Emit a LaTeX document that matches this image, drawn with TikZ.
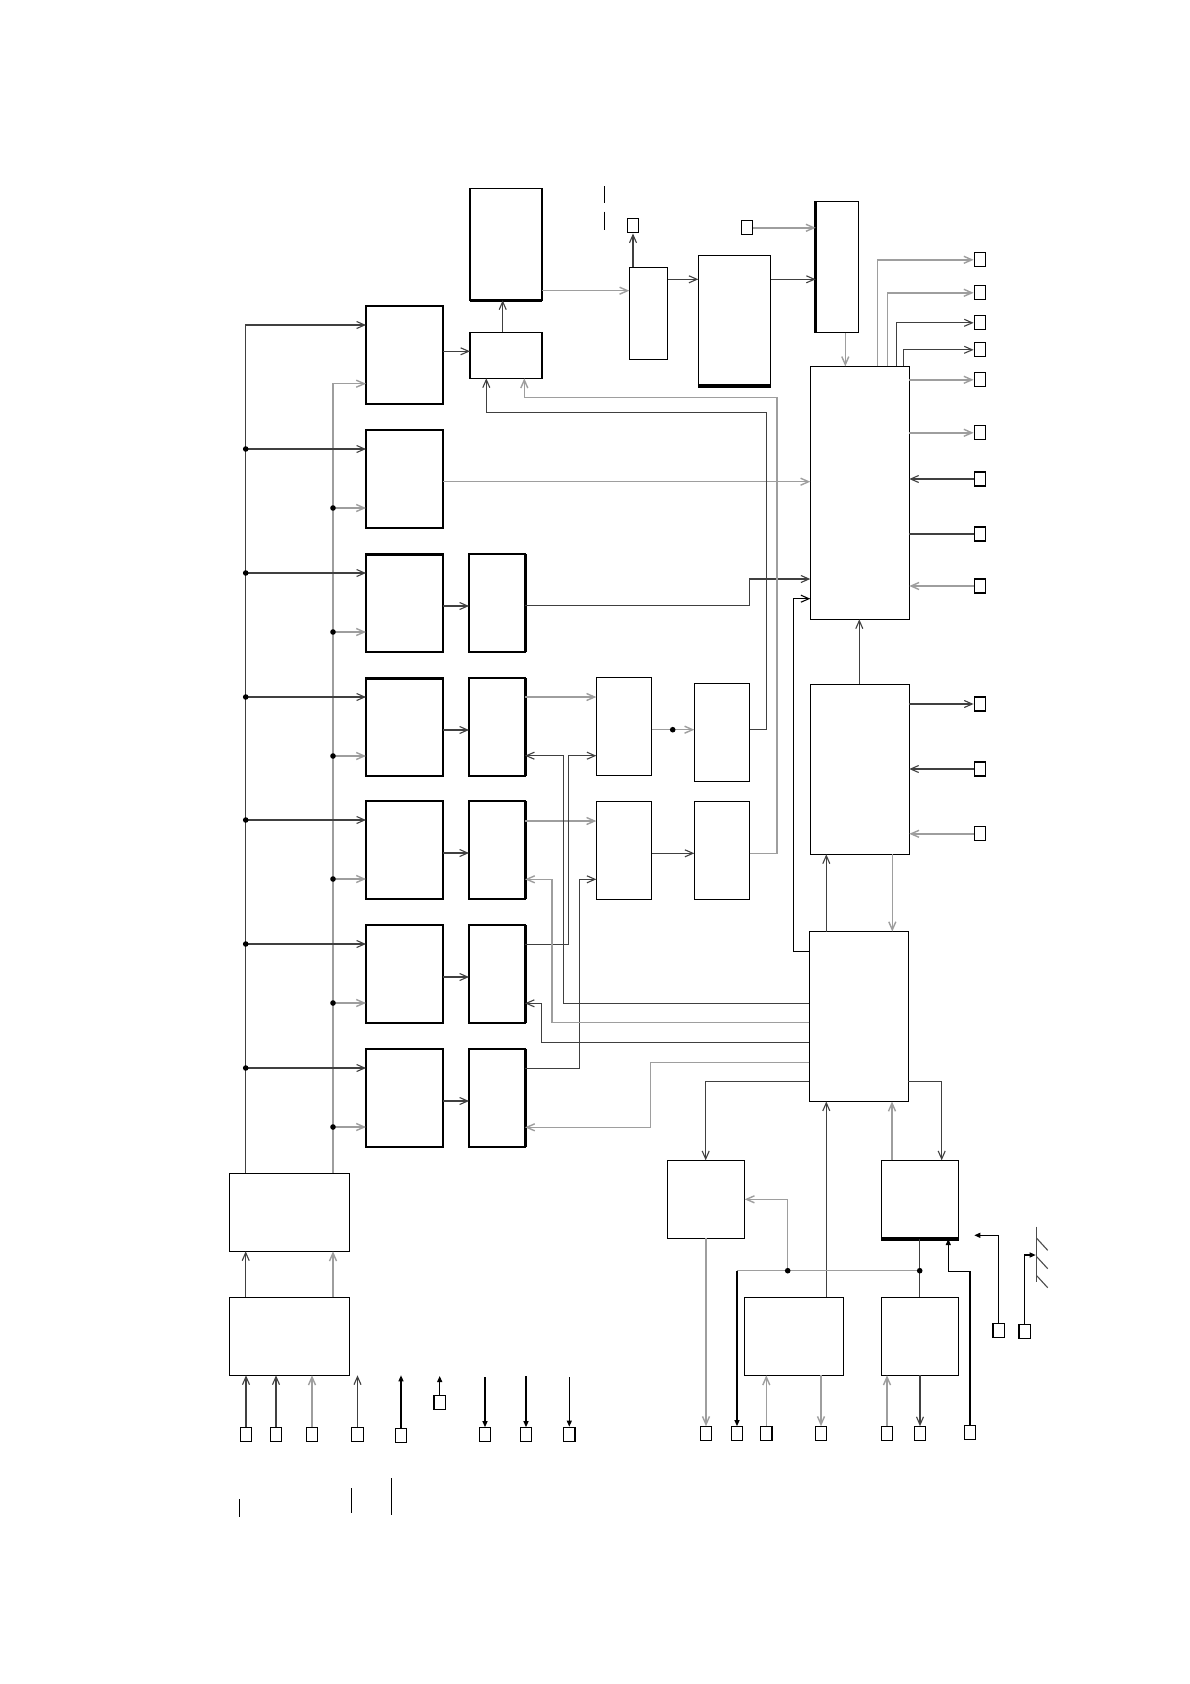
\documentclass[tikz,border=0pt]{standalone}
\usetikzlibrary{arrows.meta, positioning}

\begin{document}
\begin{tikzpicture}[x=1pt, y=-1pt,
        blk/.style={draw, line width=1.5pt, inner sep=0pt, outer sep=0pt, minimum width=77pt, minimum height=98pt, anchor=north west},
        pin/.style={draw, line width=1.3pt, inner sep=0pt, minimum width=11.5pt, minimum height=14pt},
        wire/.style={draw=black!75, line width=1.1pt},
        lite/.style={draw=black!38, line width=1.4pt},
        arr/.style={-{Straight Barb[length=8pt, width=7pt]}},
        fil/.style={-{Triangle[length=6pt, width=5pt]}},
        node distance=26pt
    ]
        \path[use as bounding box, fill=white] (0,0) rectangle (1190,1684);

        % power supply blocks
        \node[blk, minimum width=120pt, minimum height=78pt] (ps1) at (229.3,1173.3) {};
        \node[blk, minimum width=120pt, minimum height=78pt, below=46pt of ps1] (ps2) {};

        % channel rows
        \foreach \r/\t in {0/306,1/430,2/554,3/678,4/801,5/925,6/1049}
            \node[blk] (c1r\r) at (366,\t) {};
        \foreach \r in {2,...,6} {
            \node[blk, minimum width=56pt, right=26pt of c1r\r] (c2r\r) {};
            \draw[line width=3pt] (c2r\r.north east) -- (c2r\r.south east);
        }
        \draw[line width=3pt] (c1r2.north west) -- (c1r2.north east);
        \draw[line width=3pt] (c1r3.north west) -- (c1r3.north east);

        \node[blk, minimum width=55.4pt] (c3r3) at (596.3,677.3) {};
        \node[blk, minimum width=55.4pt] (c3r4) at (596.3,801.3) {};
        \node[blk, minimum width=55.4pt] (c4r3) at (694.3,683.3) {};
        \node[blk, minimum width=55.4pt] (c4r4) at (694.3,801.3) {};

        % upper blocks
        \node[blk, minimum width=72pt, minimum height=112pt] (memA) at (470,188.3) {};
        \node[blk, minimum width=72pt, minimum height=46pt] (ctl) at (470,332.3) {};
        \node[blk, minimum width=38.4pt, minimum height=92pt] (B) at (629.3,267.3) {};
        \node[blk, minimum width=72.4pt, minimum height=130.7pt] (C) at (698.3,255.3) {};
        \node[blk, minimum width=43pt, minimum height=131.4pt] (D) at (815.7,201.3) {};
        \draw[line width=3.5pt] (memA.south west) -- (memA.south east);
        \draw[line width=3.5pt] (C.south west) -- (C.south east);
        \draw[line width=3.5pt] (D.north west) -- (D.south west);

        % right column
        \node[blk, minimum width=99pt, minimum height=253pt] (E) at (810.3,366.3) {};
        \node[blk, minimum width=99pt, minimum height=170pt] (F) at (810.3,684.3) {};
        \node[blk, minimum width=99pt, minimum height=170pt] (G) at (809.3,931.5) {};
        \node[blk, minimum width=77.4pt, minimum height=78pt] (H) at (667.3,1160.3) {};
        \node[blk, minimum width=77.4pt, minimum height=78.7pt] (J) at (881.3,1160.3) {};
        \node[blk, minimum width=99.4pt, minimum height=78pt] (K) at (744.3,1297.3) {};
        \node[blk, minimum width=77.4pt, minimum height=78pt] (L) at (881.3,1297.3) {};
        \draw[line width=3.5pt] (J.south west) -- (J.south east);

        % terminals
        \node[pin] (t1) at (633,225.8) {};
        \node[pin] (t2) at (747,227.8) {};
        \foreach \n/\y in {1/259.8,2/292.8,3/322.8,4/349.8,5/379.8,6/432.8,7/479,8/534,9/586}
            \node[pin] (q\n) at (980,\y) {};
        \foreach \n/\y in {1/704,2/769,3/833.8}
            \node[pin] (qf\n) at (980,\y) {};
        \foreach \n/\x/\y in {1/246/1434.3,2/276/1434.3,3/312/1434.3,4/357.5/1434.3,5/401/1435.3,6/439.7/1402.8,7/485/1434.8,8/526/1434.8,9/569.3/1434.3,10/706/1433.8,11/737/1433.8,12/766.3/1433.8,13/821/1433.8,14/887/1433.8,15/920/1433.8,16/970/1432.8,17/998.8/1330.7,18/1024.8/1331.7}
            \node[pin] (b\n) at (\x,\y) {};

        % supply buses
        \draw[wire,arr] (ps2.north -| 245.7,0) -- (ps1.south -| 245.7,0);
        \draw[lite,arr] (ps2.north -| 333,0) -- (ps1.south -| 333,0);
        \draw[wire,arr] (ps1.north -| 245.7,0) -- (245.7,325) -- (c1r0.west |- 0,325);
        \draw[lite,arr] (ps1.north -| 333,0) -- (333,383.7) -- (c1r0.west |- 0,383.7);
        \foreach \r/\t in {1/430,2/554,3/678,4/801,5/925,6/1049} {
            \draw[wire,arr] (245.7,\t+19) -- (c1r\r.west |- 0,\t+19);
            \fill (245.7,\t+19) circle (2.8pt);
            \draw[lite,arr] (333,\t+78) -- (c1r\r.west |- 0,\t+78);
            \fill (333,\t+78) circle (2.8pt);
        }
        \foreach \r/\t in {2/554,3/678,4/801,5/925,6/1049}
            \draw[wire,arr] (c1r\r.east |- 0,\t+52) -- (c2r\r.west |- 0,\t+52);

        % top chain
        \draw[wire,arr] (c1r0.east |- 0,351.3) -- (ctl.west |- 0,351.3);
        \draw[wire,arr] (ctl.north -| 502.7,0) -- (memA.south -| 502.7,0);
        \draw[lite,arr] (memA.east |- 0,290.7) -- (B.west |- 0,290.7);
        \draw[wire,arr] (B.north -| t1) -- (t1.south);
        \draw[wire,arr] (B.east |- 0,279.3) -- (C.west |- 0,279.3);
        \draw[wire,arr] (C.east |- 0,279.3) -- (D.west |- 0,279.3);
        \draw[lite,arr] (t2.east) -- (D.west |- t2);
        \draw[lite,arr] (D.south -| 845.3,0) -- (E.north -| 845.3,0);

        % main block outputs
        \draw[lite,arr] (E.north -| 877.7,0) |- (q1.west);
        \draw[lite,arr] (E.north -| 887.3,0) |- (q2.west);
        \draw[wire,arr] (E.north -| 896.3,0) |- (q3.west);
        \draw[wire,arr] (E.north -| 903.3,0) |- (q4.west);
        \draw[lite,arr] (E.east |- q5) -- (q5.west);
        \draw[lite,arr] (E.east |- q6) -- (q6.west);
        \draw[wire,arr] (q7.west) -- (E.east |- q7);
        \draw[wire] (E.east |- q8) -- (q8.west);
        \draw[lite,arr] (q9.west) -- (E.east |- q9);
        \draw[lite,arr] (c1r1.east |- 0,481.7) -- (E.west |- 0,481.7);
        \draw[wire,arr] (c2r2.east |- 0,605.3) -| (749.3,579) -- (E.west |- 0,579);

        % rows 3 and 4
        \draw[lite,arr] (c2r3.east |- 0,697) -- (c3r3.west |- 0,697);
        \draw[lite,arr] (c3r3.east |- 0,729.7) -- (c4r3.west |- 0,729.7);
        \fill (672.7,729.7) circle (2.8pt);
        \draw[lite,arr] (c2r4.east |- 0,821) -- (c3r4.west |- 0,821);
        \draw[wire,arr] (c3r4.east |- 0,853.3) -- (c4r4.west |- 0,853.3);
        \draw[wire,arr] (c2r5.east |- 0,944.7) -| (568.7,755.7) -- (c3r3.west |- 0,755.7);
        \draw[wire,arr] (c2r6.east |- 0,1068.7) -| (579.3,879.3) -- (c3r4.west |- 0,879.3);
        \draw[wire,arr] (c4r3.east |- 0,729.3) -| (766.3,412.7) -| (ctl.south -| 486.3,0);
        \draw[lite,arr] (c4r4.east |- 0,853.3) -| (777,397.3) -| (ctl.south -| 524.3,0);

        % control block
        \draw[wire,arr] (F.north -| 859.3,0) -- (E.south -| 859.3,0);
        \draw[wire,arr] (F.east |- qf1) -- (qf1.west);
        \draw[wire,arr] (qf2.west) -- (F.east |- qf2);
        \draw[lite,arr] (qf3.west) -- (F.east |- qf3);
        \draw[wire,arr] (G.north -| 826.3,0) -- (F.south -| 826.3,0);
        \draw[lite,arr] (F.south -| 892.3,0) -- (G.north -| 892.3,0);
        \draw[draw=black, line width=1.1pt, arr] (G.west |- 0,951.3) -| (793.3,598.7) -- (E.west |- 0,598.7);
        \draw[wire,arr] (G.west |- 0,1003.3) -| (563.7,755.7) -- (c2r3.east |- 0,755.7);
        \draw[lite,arr] (G.west |- 0,1022.7) -| (552,879.3) -- (c2r4.east |- 0,879.3);
        \draw[wire,arr] (G.west |- 0,1042.5) -| (541.3,1003.3) -- (c2r5.east |- 0,1003.3);
        \draw[lite,arr] (G.west |- 0,1062.3) -| (650.7,1127.3) -- (c2r6.east |- 0,1127.3);
        \draw[wire,arr] (G.west |- 0,1081.7) -| (H.north -| 705.7,0);
        \draw[wire,arr] (G.east |- 0,1081.5) -| (J.north -| 941.7,0);
        \draw[wire,arr] (K.north -| 826.3,0) -- (G.south -| 826.3,0);
        \draw[lite,arr] (J.north -| 892,0) -- (G.south -| 892,0);

        % lower right
        \coordinate (jn1) at (787.7,1270.7);
        \coordinate (jn2) at (919.7,1270.7);
        \draw[wire] (J.south -| jn2) -- (L.north -| jn2);
        \draw[lite] (jn2) -- (737,1270.7);
        \draw[draw=black, line width=1.1pt, fil] (737,1270.7) -- (b11.north);
        \draw[lite,arr] (jn1) |- (H.east |- 0,1199.3);
        \fill (jn1) circle (2.8pt);
        \fill (jn2) circle (2.8pt);
        \draw[lite,arr] (H.south -| b10) -- (b10.north);
        \draw[lite,arr] (b12.north) -- (b12 |- K.south);
        \draw[lite,arr] (b13 |- K.south) -- (b13.north);
        \draw[lite,arr] (b14.north) -- (b14 |- L.south);
        \draw[wire,arr] (b15 |- L.south) -- (b15.north);
        \draw[draw=black, line width=1.1pt, fil] (b16.north) |- (948.3,1271.7) -- (J.south -| 948.3,0);
        \coordinate (gnd1) at (974.3,1235.3);
        \coordinate (gnd2) at (1035.7,1255);
        \draw[draw=black, line width=1.1pt, fil] (b17.north) |- (gnd1);
        \draw[draw=black, line width=1.1pt, fil] (b18.north) |- (gnd2);
        \draw[black!70, line width=1.3pt] (1036.7,1226.7) -- (1036.7,1281.7);
        \foreach \y in {1238.3,1256.7,1275.7}
            \draw[black!70, line width=1.1pt] (1036.7,\y) -- (1047.7,\y+12);

        % lower left terminals
        \draw[wire,arr] (b1.north) -- (b1 |- ps2.south);
        \draw[wire,arr] (b2.north) -- (b2 |- ps2.south);
        \draw[lite,arr] (b3.north) -- (b3 |- ps2.south);
        \coordinate (f4) at (357.5,1375.3);
        \coordinate (f5) at (401,1375.3);
        \coordinate (f6) at (439.7,1376);
        \coordinate (f7) at (485,1377.3);
        \coordinate (f8) at (526,1376);
        \coordinate (f9) at (569.3,1377);
        \draw[wire,arr] (b4.north) -- (f4);
        \draw[draw=black, line width=1.1pt, fil] (b5.north) -- (f5);
        \draw[draw=black, line width=1.1pt, fil] (b6.north) -- (f6);
        \foreach \n in {7,8,9}
            \draw[draw=black, line width=1.1pt, fil] (f\n) -- (b\n.north);

        % short strokes
        \draw[line width=1.3pt] (604.3,186) -- (604.3,203.3);
        \draw[line width=1.3pt] (604.3,211.7) -- (604.3,230);
        \draw[line width=1.3pt] (239.7,1499) -- (239.7,1516.7);
        \draw[line width=1.3pt] (351.3,1488.3) -- (351.3,1513.3);
        \draw[line width=1.3pt] (391.3,1478.3) -- (391.3,1515);
    \end{tikzpicture}
\end{document}
